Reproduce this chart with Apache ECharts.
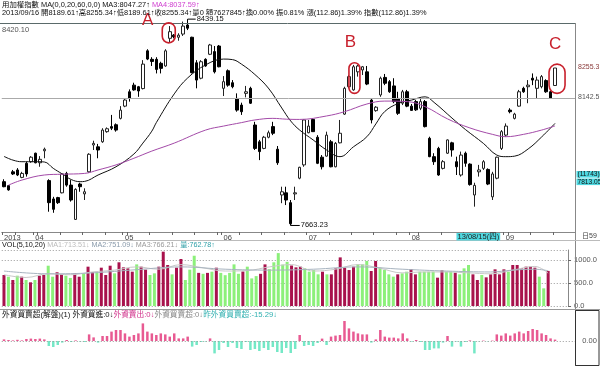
<!DOCTYPE html>
<html><head><meta charset="utf-8">
<script src="https://cdn.jsdelivr.net/npm/echarts@6/dist/echarts.min.js"></script>
<style>html,body{margin:0;padding:0;background:#fff}#c{width:600px;height:366px}</style>
</head><body><div id="c"></div>
<script>
// ---- data ----
const monthTicks = [[0,'2013'],[7,'04'],[27,'05'],[49,'06'],[68,'07'],[91,'08'],[112,'09']];
const opens = [7828,7813,7865,7872,7844,7897,7903,7935,7899,7944,7832,7763,7768,7786,7859,7815,7686,7819,7782,7865,
7966,7959,7978,8016,8035,8042,8066,8112,8166,8191,8185,8178,8320,8288,8288,8273,8263,8367,8379,8371,
8383,8417,8371,8275,8217,8288,8307,8317,8338,8179,8245,8200,8141,8116,8160,8179,8041,7978,7953,7995,
8035,7950,7778,7786,7749,7782,7841,7891,8012,8062,7995,7920,7924,7978,7884,7974,8082,8185,8173,8241,
8248,8241,8135,8095,8154,8220,8204,8188,8141,8123,8166,8112,8129,8104,8129,7991,7922,7953,7878,7935,
7974,7903,7853,7935,7894,7778,7865,7878,7874,7771,7841,7953,8003,8097,8066,8112,8179,8185,8217,8179,
8185,8208,8166,8189.61];
const closes = [7809,7797,7857,7853,7859,7857,7920,7899,7912,7950,7749,7724,7749,7857,7815,7759,7799,7809,7790,7931,
7972,7947,8022,8027,8029,8022,8097,8135,8141,8173,8169,8270,8289,8280,8250,8254,8320,8392,8373,8379,
8413,8405,8238,8210,8279,8263,8342,8241,8260,8204,8191,8185,8097,8091,8166,8123,7953,7941,7995,8012,
8010,7899,7790,7759,7670,7786,7882,8060,8037,8016,7897,7884,8003,7884,7972,8010,8179,8223,8260,8263,
8260,8195,8060,8108,8217,8198,8166,8129,8085,8166,8112,8096,8098,8129,8035,7922,7903,7853,7903,7985,
7947,7884,7928,7897,7817,7814,7872,7903,7819,7857,7920,8016,8037,8091,8082,8166,8166,8191,8210,8210,
8223,8166,8142.48,8255.34];
const lows = [7807,7794,7853,7849,7841,7847,7899,7897,7884,7916,7715,7711,7744,7784,7809,7753,7684,7790,7759,7862,
7947,7916,7974,8012,8022,8016,8062,8108,8129,8170,8147,8175,8285,8263,8235,8235,8260,8350,8367,8358,
8376,8398,8235,8179,8213,8260,8304,8235,8258,8150,8185,8179,8091,8079,8145,8120,7947,7909,7950,7991,
8003,7891,7747,7740,7663.23,7759,7837,7884,8010,8015,7894,7874,7922,7882,7882,7972,8079,8179,8170,8223,
8229,8191,8047,8091,8147,8191,8162,8123,8079,8116,8108,8095,8094,8097,8032,7920,7891,7850,7874,7932,
7922,7853,7847,7884,7813,7734,7847,7872,7815,7759,7837,7947,7997,8085,8062,8110,8162,8123,8191,8141,
8179,8162,8139,8189.61];
const highs = [7837,7815,7872,7879,7865,7903,7924,7937,7924,7956,7837,7771,7771,7859,7865,7834,7803,7824,7803,7935,
7982,7970,8029,8032,8079,8047,8112,8140,8175,8200,8188,8285,8326,8296,8296,8279,8326,8413,8383,8386,
8430,8439.15,8373,8285,8285,8292,8346,8338,8342,8225,8250,8210,8160,8125,8188,8185,8053,7985,8000,8020,
8053,7962,7809,7809,7759,7809,7884,8062,8060,8065,8003,7928,8016,7985,7977,8060,8185,8229,8267,8267,
8263,8263,8141,8112,8223,8233,8210,8217,8166,8173,8173,8120,8135,8141,8135,7997,7935,7959,7909,7987,
7978,7922,7941,7941,7897,7824,7891,7909,7878,7865,7922,8022,8047,8104,8087,8173,8185,8210,8235,8223,
8229,8213,8171,8255.34];
// 20-day (black) and 60-day (purple) moving averages, read at selected bars [bar, value]
const ma20 = [[0,7923],[2,7909],[4,7903],[7,7903],[9,7902],[11,7878],[13,7857],[15,7836],[17,7828],[18,7829],
[21,7853],[25,7884],[29,7932],[31,7973],[33,8018],[34,8050],[38,8158],[41,8218],[45,8267],[49,8289],[51,8287],
[53,8270],[56,8231],[59,8180],[62,8105],[64,8056],[66,8022],[69,7985],[72,7947],[75,7922],[78,7959],[81,7997],
[83,8045],[85,8092],[88,8122],[91,8135],[94,8147],[96,8126],[100,8067],[103,8024],[107,7972],[110,7928],
[112,7922],[114,7924],[117,7951],[120,7996],[123,8047.27]];
const ma60 = [[1,7815],[4,7834],[9,7853],[13,7856],[18,7859],[21,7872],[25,7891],[29,7916],[33,7943],[38,7973],
[45,8022],[49,8037],[53,8050],[56,8060],[60,8066],[63,8063],[66,8062],[72,8075],[76,8091],[81,8120],[85,8131],
[90,8129],[94,8110],[99,8064],[104,8030],[109,8006],[112,7997],[116,8006],[120,8022],[123,8037.59]];
const volumes = [674,637,565,659,637,565,515,565,659,674,876,637,733,690,659,610,710,637,710,855,
733,746,833,674,876,710,950,840,819,746,905,855,790,674,710,855,1181,891,688,833,
1022,565,790,1093,720,700,720,746,833,720,670,720,905,700,750,855,600,650,700,905,
800,950,1150,900,960,880,840,855,819,746,782,688,746,688,688,819,1057,833,782,855,
906,906,978,761,978,833,782,688,638,688,710,746,804,688,746,746,746,746,616,775,
746,746,724,688,819,891,688,565,674,623,688,797,688,797,746,891,891,819,855,855,
833,638,384,762.78];
// volume moving averages, read at selected bars
const volMa5 = [[0,680],[5,620],[10,700],[15,680],[20,740],[25,780],[30,850],[35,800],[40,900],[45,830],[50,760],
[55,770],[60,850],[65,900],[70,760],[75,800],[80,900],[85,820],[90,720],[95,740],[100,740],[105,720],[110,700],
[115,780],[120,860],[123,713.51]];
const volMa20 = [[0,760],[10,700],[20,720],[30,790],[40,850],[50,800],[60,780],[70,800],[80,850],[90,800],
[100,760],[110,740],[115,780],[120,800],[123,766.21]];
const foreign = [8,5,3,6,3,10,12,10,12,8,-25,-30,-20,-8,5,-5,3,-3,-5,33,
18,-8,25,25,47,55,55,38,22,30,38,88,47,38,30,38,33,22,38,13,
13,22,-28,-20,-5,-3,13,-62,-45,-10,-30,-10,-35,-40,-5,-45,-40,-50,-35,-45,
-30,-55,-60,-35,-60,-40,30,-25,-20,-25,-10,12,-20,22,27,30,100,63,47,38,
33,33,-8,8,55,22,17,17,13,38,13,-3,5,-5,-45,-45,-37,-37,-8,25,
-28,-3,-28,-5,3,-62,-2,2,-2,2,33,27,38,27,38,47,38,50,60,55,
38,30,13,7];

// ---- chart ----
const N = closes.length;
const EXTRA = 4;
const cats = []; for (let i = 0; i < N + EXTRA; i++) cats.push('c' + i);
const labelMap = new Map(monthTicks);
const candle = opens.map((o, i) => [o, closes[i], lows[i], highs[i]]);
// volume bar colour: red when the close is not below the previous close, green otherwise
const volData = volumes.map((v, i) => ({ value: v,
  itemStyle: { color: (i === 0 || closes[i] >= closes[i - 1]) ? '#a8124c' : '#8cf07a' } }));
const forData = foreign.map(v => ({ value: v, itemStyle: { color: v >= 0 ? '#e85a92' : '#74e8c6' } }));

const GL = 1.76, GW = (N + EXTRA) * 4.48;
const chart = echarts.init(document.getElementById('c'));
const FONT = 'Liberation Sans, Noto Sans CJK TC';

chart.setOption({
  animation: false,
  backgroundColor: '#fff',
  grid: [
    { left: GL, width: GW, top: 24.2, height: 207.8 },
    { left: GL, width: GW, top: 250, height: 56 },
    { left: GL, width: GW, top: 320, height: 46 }
  ],
  xAxis: [
    { type: 'category', data: cats, gridIndex: 0, boundaryGap: true,
      axisLine: { lineStyle: { color: '#888' } },
      axisTick: { show: true, length: 3, lineStyle: { color: '#666' },
        interval: (i) => labelMap.has(i) || i % 5 === 3 },
      axisLabel: { show: true, interval: (i) => labelMap.has(i), formatter: (v, i) => labelMap.get(i) || '',
        align: 'left', margin: 2, fontSize: 7.5, color: '#444', fontFamily: 'Liberation Sans' },
      splitLine: { show: false } },
    { type: 'category', data: cats, gridIndex: 1, axisLine: { show: false }, axisTick: { show: false }, axisLabel: { show: false } },
    { type: 'category', data: cats, gridIndex: 2, axisLine: { show: false }, axisTick: { show: false }, axisLabel: { show: false } }
  ],
  yAxis: [
    { type: 'value', gridIndex: 0, position: 'right', min: 7638.7, max: 8420.1, scale: true,
      axisLine: { show: true, lineStyle: { color: '#888' } }, axisTick: { show: false }, axisLabel: { show: false }, splitLine: { show: false } },
    { type: 'value', gridIndex: 1, position: 'right', min: 0, max: 1217.4, interval: 500,
      axisLine: { show: true, lineStyle: { color: '#888' } },
      axisTick: { show: true, length: 3, lineStyle: { color: '#666' } },
      axisLabel: { fontSize: 7.5, color: '#555', margin: 6, align: 'left', showMaxLabel: false, formatter: v => v.toFixed(1), fontFamily: 'Liberation Sans' },
      splitLine: { show: true, lineStyle: { color: '#999', type: [1, 2] } } },
    { type: 'value', gridIndex: 2, position: 'right', min: -125, max: 105, interval: 125,
      axisLine: { show: true, lineStyle: { color: '#888' } }, axisTick: { show: false },
      axisLabel: { fontSize: 7.5, color: '#555', margin: 7, align: 'left', formatter: v => v === 0 ? '0.00' : '', fontFamily: 'Liberation Sans' },
      splitLine: { show: false } }
  ],
  series: [
    { type: 'candlestick', xAxisIndex: 0, yAxisIndex: 0, data: candle, barWidth: 3, clip: false,
      itemStyle: { color: '#fff', color0: '#000', borderColor: '#222', borderColor0: '#000', borderWidth: 1 },
      markLine: { silent: true, symbol: 'none', label: { show: false },
        data: [ { yAxis: 8142.5, lineStyle: { color: '#aaa', type: 'solid', width: 1 } } ] } },
    { type: 'line', xAxisIndex: 0, yAxisIndex: 0, data: ma20, smooth: 0.4, showSymbol: false, lineStyle: { color: '#111', width: 1 } },
    { type: 'line', xAxisIndex: 0, yAxisIndex: 0, data: ma60, smooth: 0.4, showSymbol: false, lineStyle: { color: '#a34aa8', width: 1 } },
    { type: 'bar', xAxisIndex: 1, yAxisIndex: 1, data: volData, barWidth: 3 },
    { type: 'line', xAxisIndex: 1, yAxisIndex: 1, data: volMa5, smooth: 0.4, showSymbol: false, lineStyle: { color: '#c8c8c8', width: 1 }, z: 5 },
    { type: 'line', xAxisIndex: 1, yAxisIndex: 1, data: volMa20, smooth: 0.4, showSymbol: false, lineStyle: { color: '#a8b4c0', width: 1 }, z: 5 },
    { type: 'bar', xAxisIndex: 2, yAxisIndex: 2, data: forData, barWidth: 2.5,
      markLine: { silent: true, symbol: 'none', label: { show: false },
        data: [{ yAxis: 0, lineStyle: { color: '#999', type: [1, 2], width: 1 } }] } }
  ]
});

// ---- annotations positioned through the axes ----
const px = (i, v) => chart.convertToPixel({ gridIndex: 0 }, [i, v]);
const hi = highs.indexOf(Math.max(...highs));
const lo = lows.indexOf(Math.min(...lows));
const pHi = px(hi, highs[hi]), pLo = px(lo, lows[lo]);
const red = '#c8202c';
function oval(i, yTop, yBot, w, dx) {
  const a = px(i, yTop), b = px(i, yBot);
  return { type: 'rect', shape: { x: a[0] - w / 2 + (dx || 0), y: a[1], width: w, height: b[1] - a[1], r: w / 2 },
    style: { fill: 'none', stroke: red, lineWidth: 1.6 }, z: 50 };
}
function letter(t, x, y) {
  return { type: 'text', x, y, style: { text: t, fill: red, font: '17px Liberation Sans', textAlign: 'center', textVerticalAlign: 'middle' }, z: 50 };
}
const pA = px(37, 8430), pB = px(78, 8350), pC = px(123, 8345);
const d15 = px(101, 7700);
const pLast = px(N - 1, closes[N - 1]), pPrev = px(N - 1, 8142.5);
const T = (text, x, y, extra) => Object.assign({ type: 'text', x, y, style: Object.assign({ text, fill: '#333', font: '7.5px ' + FONT }, extra || {}), z: 60 });

chart.setOption({ graphic: [
  { type: 'line', shape: { x1: 0, y1: 23.5, x2: 575, y2: 23.5 }, style: { stroke: '#5a6a6a', lineWidth: 1 }, z: 40 },
  { type: 'line', shape: { x1: 575.5, y1: 23, x2: 575.5, y2: 366 }, style: { stroke: '#888', lineWidth: 1 }, z: 40 },
  { type: 'line', shape: { x1: 0, y1: 240.5, x2: 600, y2: 240.5 }, style: { stroke: '#bbb', lineWidth: 1 }, z: 40 },
  { type: 'line', shape: { x1: 0, y1: 309.5, x2: 600, y2: 309.5 }, style: { stroke: '#999', lineWidth: 1 }, z: 40 },
  { type: 'rect', shape: { x: 575.5, y: 310.5, width: 23.5, height: 55 }, style: { fill: 'none', stroke: '#333', lineWidth: 1 }, z: 40 },
  T('8420.10', 2, 26, { fill: '#555' }),
  T('8255.3', 578, pLast[1] - 4, { fill: '#8a3a3a', font: '7px ' + FONT }),
  T('8142.5', 578, pPrev[1] - 4, { fill: '#555', font: '7px ' + FONT }),
  { type: 'text', x: 2, y: 1, style: { rich: { k: { fill: '#111', font: '7.4px ' + FONT }, m: { fill: '#d040d0', font: '7.4px ' + FONT } },
      text: '{k|用加權指數 MA(0,0,20,60,0,0) MA3:8047.27↑}{m| MA4:8037.59↑}' }, z: 60 },
  T('2013/09/16 開8189.61↑高8255.34↑低8189.61↑收8255.34↑量0 額7627845↑換0.00% 振0.81% 漲(112.86)1.39% 指數(112.86)1.39%', 2, 9.5, { fill: '#111', font: '7.4px ' + FONT }),
  { type: 'line', shape: { x1: pHi[0], y1: pHi[1], x2: pHi[0] + 8, y2: pHi[1] }, style: { stroke: '#000', lineWidth: 1 }, z: 60 },
  T(String(highs[hi]), pHi[0] + 9, pHi[1] - 4, { fill: '#111', backgroundColor: '#fff' }),
  { type: 'polyline', shape: { points: [[pLo[0], pLo[1] - 2], [pLo[0], pLo[1]], [pLo[0] + 9, pLo[1]]] }, style: { stroke: '#000', fill: 'none', lineWidth: 1 }, z: 60 },
  T(String(lows[lo]), pLo[0] + 10, pLo[1] - 4, { fill: '#111' }),
  oval(37, 8425, 8350, 13, -1), oval(78, 8275, 8160, 11, 1), oval(123, 8270, 8160, 16, 2),
  letter('A', pA[0] - 22, 20), letter('B', pB[0] - 3, 42), letter('C', pC[0], 44),
  T('13/08/15(四)', d15[0], 233, { fill: '#222', backgroundColor: '#4fd8e0', padding: [0, 1] }),
  T('(11743)', 576.5, 171, { fill: '#111', backgroundColor: '#4fd8e0', padding: [0, 1], font: '6.6px ' + FONT }),
  T('7813.05', 576.5, 178.5, { fill: '#111', backgroundColor: '#4fd8e0', padding: [0, 1], font: '6.6px ' + FONT }),
  T('日59', 582, 233, { fill: '#444', font: '7px ' + FONT }),
  { type: 'text', x: 2, y: 241.5, style: { rich: { a: { fill: '#111', font: '7.2px ' + FONT }, b: { fill: '#bbb', font: '7.2px ' + FONT },
      c: { fill: '#8899aa', font: '7.2px ' + FONT }, d: { fill: '#999', font: '7.2px ' + FONT }, e: { fill: '#30a0a8', font: '7.2px ' + FONT } },
      text: '{a|VOL(5,10,20) }{b|MA1:713.51↓ }{c|MA2:751.09↓ }{d|MA3:766.21↓ }{e|量:762.78↑}' }, z: 60 },
  { type: 'text', x: 2, y: 311, style: { rich: { a: { fill: '#111', font: '7.7px ' + FONT }, b: { fill: '#d0308a', font: '7.7px ' + FONT },
      c: { fill: '#888', font: '7.7px ' + FONT }, d: { fill: '#30b0b0', font: '7.7px ' + FONT } },
      text: '{a|外資買賣超(解盤)(1) 外資買進:0↓}{b|外資賣出:0↓}{c|外資買賣超:0↓}{d|昨外資買賣超:-15.29↓}' }, z: 60 }
] });
</script></body></html>
